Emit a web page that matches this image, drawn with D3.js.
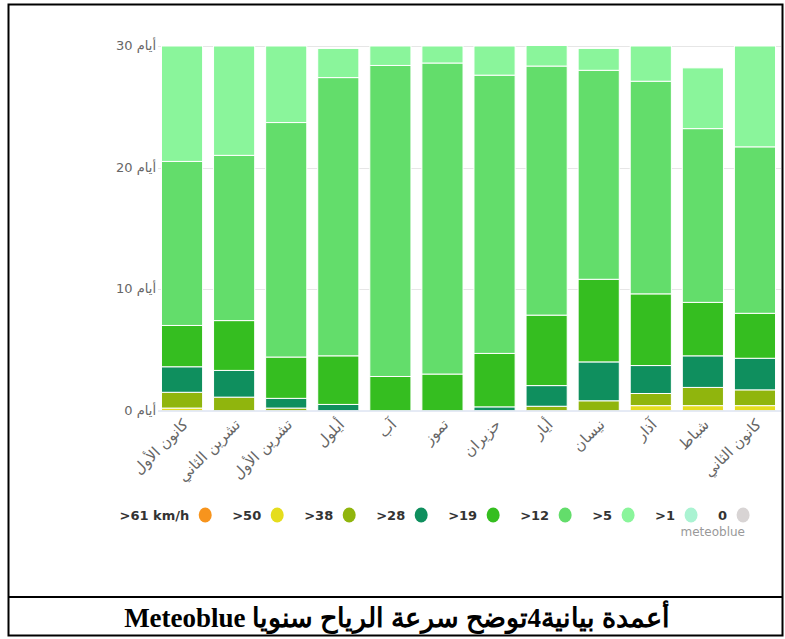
<!DOCTYPE html>
<html>
<head>
<meta charset="utf-8">
<script src="https://cdn.jsdelivr.net/npm/d3@7"></script>
<style>
body{margin:0;background:#fff}
svg{display:block}
</style>
</head>
<body>
<div id="chart"></div>
<script>

// months as shown left to right
const months=["كانون الأول","تشرين الثاني","تشرين الأول","أيلول","آب","تموز","حزيران","أيار","نيسان","آذار","شباط","كانون الثاني"]

// days per month in each wind speed class
const over61=[0,0,0,0,0,0,0,0,0,0,0,0]
const over50=[0.2,0,0,0,0,0,0,0,0,0.4,0.4,0.4]
const over38=[1.3,1.1,0.2,0,0,0,0,0.35,0.8,1.0,1.5,1.3]
const over28=[2.1,2.2,0.8,0.5,0,0,0.3,1.7,3.2,2.3,2.6,2.6]
const over19=[3.4,4.1,3.4,4.0,2.8,3.0,4.4,5.8,6.8,5.9,4.4,3.7]
const over12=[13.5,13.6,19.3,22.9,25.6,25.6,22.9,20.5,17.2,17.5,14.3,13.7]
const over5=[9.5,9.0,6.3,2.4,1.6,1.4,2.4,1.7,1.8,2.9,5.0,8.3]
const over1=[0,0,0,0,0,0,0,0,0,0,0,0]
const calm=[0,0,0,0,0,0,0,0,0,0,0,0]

const classNames=[">61 km/h",">50",">38",">28",">19",">12",">5",">1","0"]
const classValues=[over61,over50,over38,over28,over19,over12,over5,over1,calm]
const classColors=["#f7941d","#e5dd1d","#90b50d","#0f8f5e","#35be20","#63dd6b","#8af59b","#aaf3d2","#d8d4d4"]

const yTicks=[0,10,20,30]
const caption="أعمدة بيانية4توضح سرعة الرياح سنويا Meteoblue"

const W=785,H=639

const svg=d3.select("#chart")
.append("svg")
.attr("width",W)
.attr("height",H)

// frame round the figure and the caption cell
svg.append("rect")
.attr("x",8.5).attr("y",4.5)
.attr("width",774).attr("height",631)
.attr("fill","none")
.attr("stroke","#000")
.attr("stroke-width",2)

svg.append("line")
.attr("x1",8).attr("x2",783)
.attr("y1",597).attr("y2",597)
.attr("stroke","#000")
.attr("stroke-width",2)

svg.append("text")
.attr("x",397)
.attr("y",627)
.attr("text-anchor","middle")
.attr("direction","rtl")
.attr("font-family","'Liberation Serif','Times New Roman',serif")
.attr("font-weight","bold")
.attr("font-size",27)
.attr("fill","#000")
.text(caption)

// chart
const plotLeft=156,plotRight=781,plotTop=46,plotBottom=410.5

const x=d3.scaleBand()
.domain(months)
.range([plotLeft,plotRight])
.paddingInner(0.21)
.paddingOuter(0.105)

const y=d3.scaleLinear()
.domain([0,30])
.range([plotBottom,plotTop])

const font="'DejaVu Sans','Noto Sans',sans-serif"

// grid
svg.append("g")
.selectAll("line")
.data(yTicks.filter(t=>t>0))
.enter()
.append("line")
.attr("x1",plotLeft+2)
.attr("x2",plotRight)
.attr("y1",d=>Math.round(y(d))+0.5)
.attr("y2",d=>Math.round(y(d))+0.5)
.attr("stroke","#e6e6e6")

// y labels
svg.append("g")
.selectAll("text")
.data(yTicks)
.enter()
.append("text")
.attr("x",plotLeft)
.attr("y",d=>y(d)+4)
.attr("text-anchor","end")
.attr("font-family",font)
.attr("font-size",13)
.attr("fill","#666")
.text(d=>d+" أيام")

// stacked bars
const table=months.map((m,i)=>{
const row={month:m}
classNames.forEach((c,k)=>{row[c]=classValues[k][i]})
return row
})

const stack=d3.stack().keys(classNames)(table)

svg.append("defs").append("clipPath")
.attr("id","plotclip")
.append("rect")
.attr("x",plotLeft).attr("y",plotTop)
.attr("width",plotRight-plotLeft).attr("height",plotBottom-plotTop)

const bars=svg.append("g").attr("clip-path","url(#plotclip)")

stack.forEach((layer,k)=>{
bars.append("g")
.selectAll("rect")
.data(layer.filter(d=>d[1]-d[0]>0))
.enter()
.append("rect")
.attr("x",d=>x(d.data.month))
.attr("width",x.bandwidth())
.attr("y",d=>y(d[1]))
.attr("height",d=>y(d[0])-y(d[1]))
.attr("fill",classColors[k])
.attr("stroke","#fff")
.attr("stroke-width",1)
})

// x axis line
svg.append("line")
.attr("x1",plotLeft+2)
.attr("x2",plotRight)
.attr("y1",plotBottom+0.5)
.attr("y2",plotBottom+0.5)
.attr("stroke","#ccd6eb")

// x labels
svg.append("g")
.selectAll("text")
.data(months)
.enter()
.append("text")
.attr("transform",d=>"translate("+(x(d)+x.bandwidth()/2+7)+","+(plotBottom+15)+") rotate(-45)")
.attr("text-anchor","end")
.attr("font-family",font)
.attr("font-size",15)
.attr("fill","#666")
.text(d=>d)

// legend
const legend=svg.append("g")
let lx=119.5
const ly=515

classNames.forEach((c,k)=>{
const t=legend.append("text")
.attr("x",lx)
.attr("y",ly+5)
.attr("font-family",font)
.attr("font-size",13)
.attr("font-weight","bold")
.attr("fill","#333")
.text(c)
const w=t.node().getComputedTextLength()
const cx=lx+w+16
legend.append("ellipse")
.attr("cx",cx)
.attr("cy",ly)
.attr("rx",6.5)
.attr("ry",7.5)
.attr("fill",classColors[k])
lx=cx+27
})

svg.append("text")
.attr("x",745)
.attr("y",536)
.attr("text-anchor","end")
.attr("font-family",font)
.attr("font-size",12)
.attr("fill","#999")
.text("meteoblue")

</script>
</body>
</html>
